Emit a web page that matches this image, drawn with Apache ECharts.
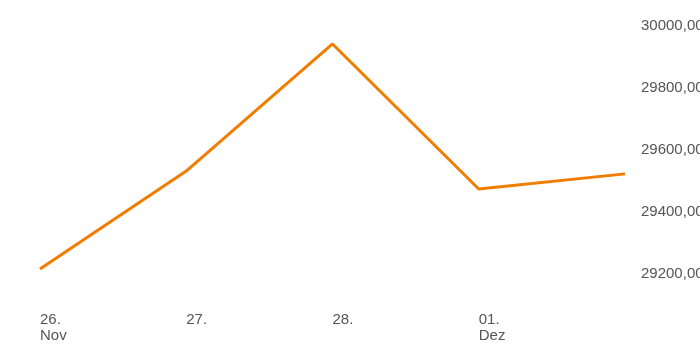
<!DOCTYPE html>
<html><head><meta charset="utf-8">
<script src="https://cdn.jsdelivr.net/npm/echarts@6/dist/echarts.min.js"></script>
<style>html,body{margin:0;padding:0;background:#fff}#c{width:700px;height:350px}</style>
</head><body><div id="c"></div>
<script>
var categories = ['26.11', '27.11', '28.11', '01.12', '02.12'];
var tickLabels = ['26.\nNov', '27.', '28.', '01.\nDez', ''];
var values = [29216, 29532, 29942, 29474, 29523];
var yMin = 29100, yMax = 30000, yStep = 100;

var chart = echarts.init(document.getElementById('c'), null, {renderer: 'canvas'});
chart.setOption({
  animation: false,
  backgroundColor: '#ffffff',
  grid: {left: 40, right: 75, top: 26, bottom: 45, containLabel: false, outerBoundsMode: 'none'},
  xAxis: {
    type: 'category', data: categories, boundaryGap: false,
    axisLine: {show: false}, axisTick: {show: false}, splitLine: {show: false},
    axisLabel: {
      align: 'left', verticalAlign: 'top', margin: 7, interval: 0,
      color: '#555555', fontFamily: 'Liberation Sans, Arial, sans-serif', fontSize: 15, lineHeight: 16,
      formatter: function (v, i) { return tickLabels[i]; }
    }
  },
  yAxis: {
    type: 'value', position: 'right', min: yMin, max: yMax, interval: yStep,
    axisLine: {show: false}, axisTick: {show: false}, splitLine: {show: false},
    axisLabel: {
      margin: 16, color: '#555555', fontFamily: 'Liberation Sans, Arial, sans-serif', fontSize: 15, align: 'left',
      formatter: function (v) { return (Math.round(v) % 200 === 0) ? v.toFixed(2).replace('.', ',') : ''; }
    }
  },
  series: [{
    type: 'line', data: values, showSymbol: false, symbol: 'none',
    lineStyle: {color: '#f07d00', width: 3}, itemStyle: {color: '#f07d00'}
  }]
});
</script></body></html>
